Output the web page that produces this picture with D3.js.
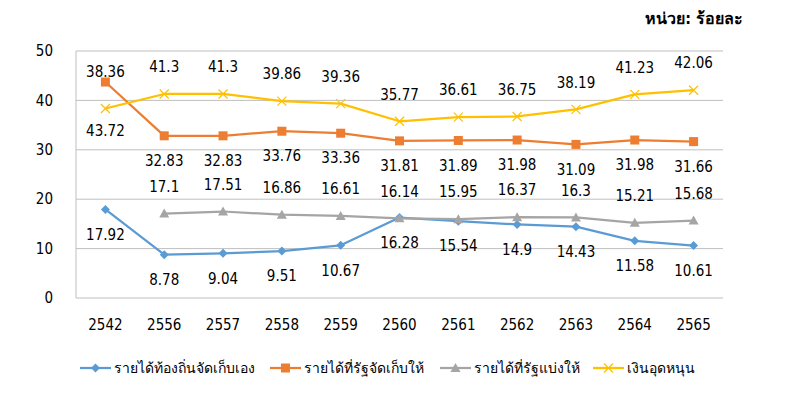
<!DOCTYPE html>
<html><head><meta charset="utf-8">
<script src="https://cdn.jsdelivr.net/npm/d3@7"></script>
<style>
body{margin:0;background:#fff;}
svg{display:block;}
text{font-family:"DejaVu Sans Condensed","DejaVu Sans",sans-serif;fill:#000;}
</style></head><body>
<svg id="c" width="800" height="402"></svg>
<script>
const years = ["2542","2556","2557","2558","2559","2560","2561","2562","2563","2564","2565"];
const seriesNames = ["รายได้ท้องถิ่นจัดเก็บเอง","รายได้ที่รัฐจัดเก็บให้","รายได้ที่รัฐแบ่งให้","เงินอุดหนุน"];
const localRevenue = [17.92,8.78,9.04,9.51,10.67,16.28,15.54,14.9,14.43,11.58,10.61];
const stateCollected = [43.72,32.83,32.83,33.76,33.36,31.81,31.89,31.98,31.09,31.98,31.66];
const stateShared = [null,17.1,17.51,16.86,16.61,16.14,15.95,16.37,16.3,15.21,15.68];
const subsidy = [38.36,41.3,41.3,39.86,39.36,35.77,36.61,36.75,38.19,41.23,42.06];
const yTicks = [0,10,20,30,40,50];

const colors = ["#5b9bd5","#ed7d31","#a5a5a5","#ffc000"];
const markers = ["diamond","square","triangle","cross"];
const labelPos = ["below","below","above","above"];
const allSeries = [localRevenue,stateCollected,stateShared,subsidy];

const svg = d3.select("#c");
const x = d3.scaleBand().domain(years).range([76,723]);
const y = d3.scaleLinear().domain([0,50]).range([298,51]);

// gridlines
svg.append("g").selectAll("line").data(yTicks).join("line")
  .attr("x1",76).attr("x2",723).attr("y1",d=>y(d)).attr("y2",d=>y(d))
  .attr("stroke","#bfbfbf").attr("stroke-width",1);
// left axis line
svg.append("line").attr("x1",76).attr("x2",76).attr("y1",y(50)).attr("y2",y(0))
  .attr("stroke","#bfbfbf").attr("stroke-width",1);

// y tick labels
svg.append("g").selectAll("text").data(yTicks).join("text")
  .attr("x",53).attr("y",d=>y(d)).attr("dy","0.35em").attr("text-anchor","end")
  .style("font-size","15px").text(d=>d);
// x labels
svg.append("g").selectAll("text").data(years).join("text")
  .attr("x",d=>x(d)+x.bandwidth()/2).attr("y",325).attr("dy","0.35em").attr("text-anchor","middle")
  .style("font-size","15px").text(d=>d);

function drawMarker(g, type, color){
  if(type==="diamond") g.append("path").attr("d","M0,-4.5L4.5,0L0,4.5L-4.5,0Z").attr("fill",color);
  else if(type==="square") g.append("rect").attr("x",-4.5).attr("y",-4.5).attr("width",9).attr("height",9).attr("fill",color);
  else if(type==="triangle") g.append("path").attr("d","M0,-5L5,4L-5,4Z").attr("fill",color);
  else g.append("path").attr("d","M-4.5,-4.5L4.5,4.5M-4.5,4.5L4.5,-4.5").attr("stroke",color).attr("stroke-width",1.2).attr("fill","none");
}

const cx = d=>x(d)+x.bandwidth()/2;
allSeries.forEach((vals,si)=>{
  const pts = years.map((yr,i)=>({yr,v:vals[i],i})).filter(p=>p.v!==null);
  const line = d3.line().x(p=>cx(p.yr)).y(p=>y(p.v));
  svg.append("path").datum(pts).attr("d",line).attr("fill","none")
    .attr("stroke",colors[si]).attr("stroke-width",2.25).attr("stroke-linejoin","round");
  pts.forEach(p=>{
    const g = svg.append("g").attr("transform",`translate(${cx(p.yr)},${y(p.v)})`);
    drawMarker(g, markers[si], colors[si]);
  });
});

// data labels
allSeries.forEach((vals,si)=>{
  years.forEach((yr,i)=>{
    const v = vals[i]; if(v===null) return;
    let ly = labelPos[si]==="above" ? y(v)-27 : y(v)+25;
    // 2542: labels moved to avoid the crossing lines
    if(i===0 && si===3) ly = y(stateCollected[0]) - 10;
    if(i===0 && si===1) ly = y(subsidy[0]) + 22;
    svg.append("text").attr("x",cx(yr)).attr("y",ly).attr("dy","0.35em")
      .attr("text-anchor","middle").style("font-size","15px").text(v);
  });
});

// legend
const legendX = [80,270,440,593];
seriesNames.forEach((n,si)=>{
  const lx = legendX[si], ly = 368;
  svg.append("line").attr("x1",lx).attr("x2",lx+31).attr("y1",ly).attr("y2",ly)
    .attr("stroke",colors[si]).attr("stroke-width",2.25);
  const g = svg.append("g").attr("transform",`translate(${lx+15.5},${ly})`);
  drawMarker(g, markers[si], colors[si]);
  svg.append("text").attr("x",lx+34).attr("y",ly).attr("dy","0.35em")
    .style("font-size","14px").text(n);
});

// unit title
svg.append("text").attr("x",743).attr("y",18).attr("dy","0.35em").attr("text-anchor","end")
  .style("font-size","16px").style("font-weight","bold").text("หน่วย: ร้อยละ");
</script>
</body></html>
